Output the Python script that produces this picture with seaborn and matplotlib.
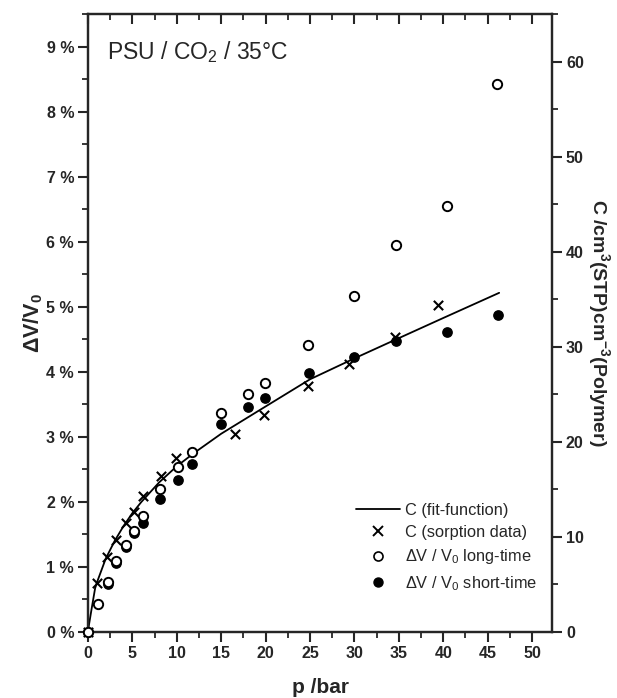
import matplotlib
matplotlib.use("Agg")
import matplotlib.pyplot as plt
from matplotlib.ticker import MultipleLocator, FuncFormatter
from matplotlib.lines import Line2D
import seaborn as sns
import pandas as pd

# ---- data ----
# fit function C (right axis, cm3(STP)/cm3)
fit_p = [0, 0.1, 0.4, 0.8, 1, 2, 3, 4, 5, 6, 8, 10, 12, 15, 20, 25, 30, 35, 40, 46.3]
fit_c = [0, 0.7, 2.4, 4.6, 5.2, 7.73, 9.58, 11.15, 12.52, 13.68, 15.74, 17.45, 18.88,
         20.87, 23.74, 26.6, 28.8, 30.93, 33.05, 35.7]
# sorption data C (right axis)
sorp_p = [0, 0.98, 2.18, 3.15, 4.28, 5.18, 6.23, 8.22, 9.91, 16.55, 19.82, 24.8, 29.4, 34.6, 39.45]
sorp_c = [0, 5.2, 7.87, 9.72, 11.5, 12.66, 14.3, 16.4, 18.3, 20.8, 22.85, 25.9, 28.2, 31.0, 34.4]
# dV/V0 long-time (left axis, %)
long_p = [0, 1.09, 2.2, 3.15, 4.24, 5.18, 6.16, 8.15, 10.1, 11.68, 14.94, 18.05, 19.93,
          24.8, 29.95, 34.65, 40.4, 46.1]
long_v = [0, 0.43, 0.77, 1.09, 1.33, 1.56, 1.78, 2.2, 2.53, 2.77, 3.37, 3.66, 3.82,
          4.41, 5.17, 5.95, 6.55, 8.43]
# dV/V0 short-time (left axis, %)
short_p = [0, 2.2, 3.15, 4.24, 5.18, 6.16, 8.15, 10.1, 11.68, 14.94, 18.05, 19.93,
           24.9, 29.95, 34.65, 40.4, 46.2]
short_v = [0, 0.74, 1.06, 1.30, 1.52, 1.68, 2.04, 2.33, 2.59, 3.19, 3.46, 3.59,
           3.98, 4.22, 4.47, 4.61, 4.87]

sns.set_style("ticks")
plt.rcParams["font.family"] = ["Liberation Sans", "DejaVu Sans"]
plt.rcParams["mathtext.fontset"] = "custom"
plt.rcParams["mathtext.rm"] = "Liberation Sans"
plt.rcParams["mathtext.it"] = "Liberation Sans:italic"
plt.rcParams["mathtext.bf"] = "Liberation Sans:bold"

fig = plt.figure(figsize=(6.17, 6.98), dpi=100)
ax = fig.add_axes([88/617, 1-632/698, (552-88)/617, (632-14)/698])
ax2 = ax.twinx()

df_fit = pd.DataFrame({"p": fit_p, "C": fit_c})
df_sorp = pd.DataFrame({"p": sorp_p, "C": sorp_c})
df_long = pd.DataFrame({"p": long_p, "v": long_v})
df_short = pd.DataFrame({"p": short_p, "v": short_v})

sns.lineplot(data=df_fit, x="p", y="C", ax=ax2, color="black", lw=1.3, sort=False)
sns.scatterplot(data=df_sorp, x="p", y="C", ax=ax2, marker="x", s=45, color="black",
                linewidth=1.5, clip_on=False, zorder=3)
sns.scatterplot(data=df_short, x="p", y="v", ax=ax, marker="o", s=45, color="black",
                edgecolor="black", linewidth=1.0, clip_on=False, zorder=3)
sns.scatterplot(data=df_long, x="p", y="v", ax=ax, marker="o", s=45, facecolor="white",
                edgecolor="black", linewidth=1.4, clip_on=False, zorder=4)

ax.set_zorder(ax2.get_zorder() + 1)
ax.patch.set_visible(False)

ax.set_xlim(0, 52.25)
ax.set_ylim(0, 9.5)
ax2.set_ylim(0, 65.05)

ax.xaxis.set_major_locator(MultipleLocator(5))
ax.xaxis.set_minor_locator(MultipleLocator(2.5))
ax.yaxis.set_major_locator(MultipleLocator(1))
ax.yaxis.set_minor_locator(MultipleLocator(0.5))
ax.yaxis.set_major_formatter(FuncFormatter(lambda v, pos: f"{v:.0f} %"))
ax2.yaxis.set_major_locator(MultipleLocator(10))
ax2.yaxis.set_minor_locator(MultipleLocator(5))

for a in (ax, ax2):
    for s in a.spines.values():
        s.set_linewidth(1.6)
        s.set_visible(True)

ax.tick_params(axis="both", which="major", direction="out", length=7, width=1.5,
               labelsize=11.5, pad=3)
ax.tick_params(axis="both", which="minor", direction="out", length=4, width=1.3)
ax.tick_params(axis="x", which="both", top=True)
ax2.tick_params(axis="y", which="major", direction="out", length=7, width=1.5,
                labelsize=11.5, pad=3)
ax2.tick_params(axis="y", which="minor", direction="out", length=4, width=1.3)
# top ticks point inward
for t in ax.xaxis.get_major_ticks():
    t.tick2line.set_marker(3)
for t in ax.xaxis.get_minor_ticks():
    t.tick2line.set_marker(3)

for lab in ax.get_xticklabels() + ax.get_yticklabels() + ax2.get_yticklabels():
    lab.set_fontweight("bold")

ax.set_xlabel("p /bar", fontsize=15, fontweight="bold", labelpad=12)
ax.set_ylabel(r"$\mathbf{\Delta}$V/V$_\mathbf{0}$", fontsize=15.5, fontweight="bold",
              labelpad=1)
ax2.set_ylabel(r"C /cm$^\mathbf{3}$(STP)cm$^\mathbf{-3}$(Polymer)", fontsize=14,
               fontweight="bold", rotation=270, labelpad=20)

ax.text(0.042, 0.938, r"PSU / CO$_2$ / 35°C", transform=ax.transAxes,
        fontsize=16.5, va="center", ha="left")

handles = [
    Line2D([], [], color="black", lw=1.3),
    Line2D([], [], color="black", marker="x", ls="none", ms=6.5, mew=1.4),
    Line2D([], [], color="black", marker="o", ls="none", ms=6.5, mfc="white", mew=1.2),
    Line2D([], [], color="black", marker="o", ls="none", ms=6.5),
]
labels = ["C (fit-function)", "C (sorption data)",
          r"$\Delta$V / V$_0$ long-time", r"$\Delta$V / V$_0$ short-time"]
ax.legend(handles, labels, loc="lower right", bbox_to_anchor=(1.0, 0.04),
          frameon=False, fontsize=11.8, handlelength=2.7, labelspacing=0.45,
          handletextpad=0.3)

fig.savefig("out.png", dpi=100)
